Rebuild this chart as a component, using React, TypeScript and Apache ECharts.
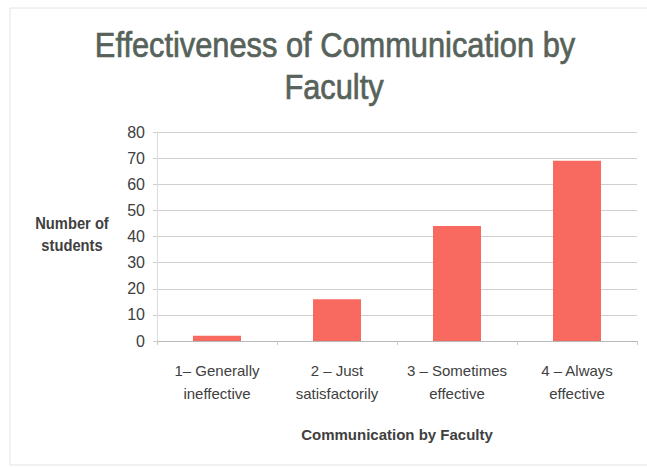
import React, { useEffect, useRef } from "react";
import * as echarts from "echarts";

const titleLines = ["Effectiveness of Communication by", "Faculty"];
const categories = [
  "1– Generally\nineffective",
  "2 – Just\nsatisfactorily",
  "3 – Sometimes\neffective",
  "4 – Always\neffective",
];
const values = [2, 16, 44, 69];
const yTicks = { min: 0, max: 80, interval: 10 };

const FONT = '"Liberation Sans", Arial, sans-serif';

export default function App() {
  const ref = useRef<HTMLDivElement>(null);
  useEffect(() => {
    document.body.style.margin = "0";
    const chart = echarts.init(ref.current!, null, { renderer: "svg" });
    const titleStyle = {
      fontFamily: FONT,
      fontSize: 35,
      fill: "#56625a",
      stroke: "#56625a",
      lineWidth: 0.7,
      textAlign: "center",
      textVerticalAlign: "middle",
    };
    chart.setOption({
      animation: false,
      backgroundColor: "#ffffff",
      grid: { left: 157, right: 10, top: 132, bottom: 126, containLabel: false },
      xAxis: {
        type: "category",
        data: categories,
        name: "Communication by Faculty",
        nameLocation: "middle",
        nameGap: 86,
        nameTextStyle: { fontFamily: FONT, fontSize: 15, fontWeight: "bold", color: "#404040" },
        axisLine: { lineStyle: { color: "#b8b8b8" } },
        axisTick: { show: true, length: 4, lineStyle: { color: "#c8c8c8" } },
        axisLabel: {
          fontFamily: FONT,
          fontSize: 15,
          color: "#404040",
          lineHeight: 23,
          margin: 18,
          interval: 0,
        },
      },
      yAxis: {
        type: "value",
        min: yTicks.min,
        max: yTicks.max,
        interval: yTicks.interval,
        axisLine: { show: true, lineStyle: { color: "#dcdcdc" } },
        axisTick: { show: true, length: 4, lineStyle: { color: "#cfcfcf" } },
        splitLine: { lineStyle: { color: "#d0d0d0" } },
        axisLabel: { fontFamily: FONT, fontSize: 16, color: "#404040", margin: 12 },
      },
      graphic: [
        {
          type: "text",
          x: 335,
          y: 45,
          scaleX: 0.88,
          style: { ...titleStyle, text: titleLines[0] },
        },
        {
          type: "text",
          x: 334,
          y: 87,
          scaleX: 0.88,
          style: { ...titleStyle, text: titleLines[1] },
        },
        {
          type: "text",
          x: 72,
          y: 234,
          scaleX: 0.92,
          style: {
            text: "Number of\nstudents",
            fontFamily: FONT,
            fontSize: 16,
            fontWeight: "bold",
            fill: "#404040",
            textAlign: "center",
            textVerticalAlign: "middle",
            lineHeight: 22,
          },
        },
        {
          type: "rect",
          shape: { x: 10, y: 8, width: 640, height: 457 },
          style: { fill: "none", stroke: "#e4e4e4", lineWidth: 1 },
          silent: true,
        },
      ],
      series: [
        {
          type: "bar",
          data: values,
          barWidth: "40%",
          itemStyle: { color: "#f8695f" },
        },
      ],
    });
    return () => chart.dispose();
  }, []);
  return <div ref={ref} style={{ width: 647, height: 467 }} />;
}
